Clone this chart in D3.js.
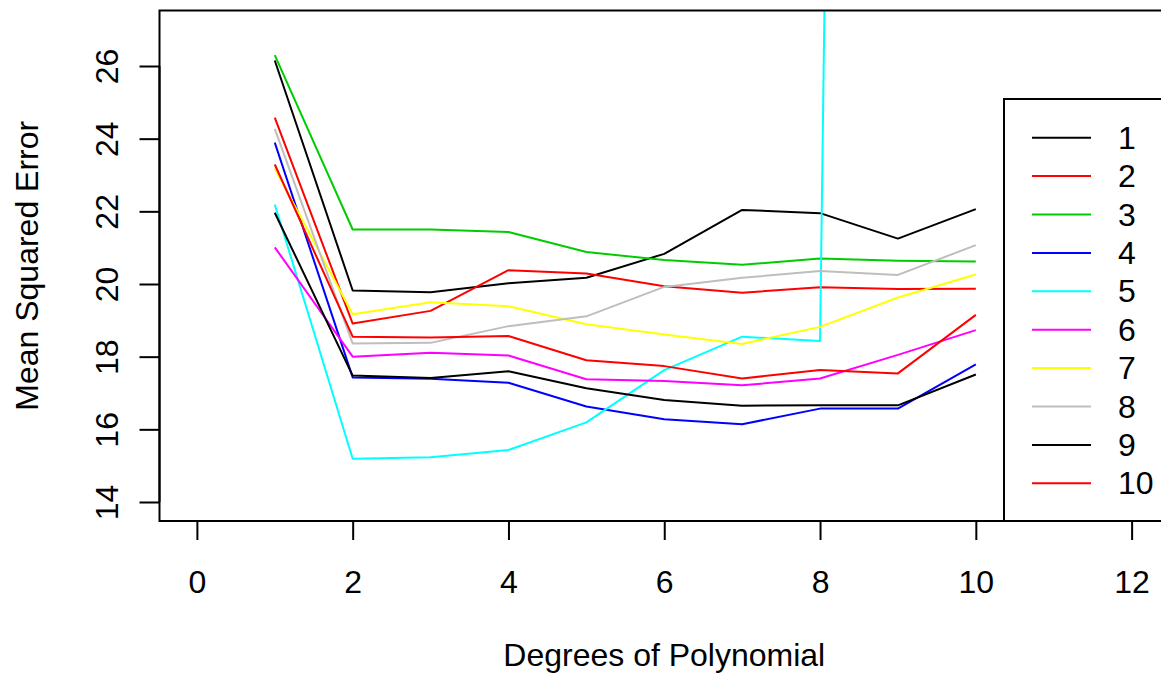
<!DOCTYPE html>
<html>
<head>
<meta charset="utf-8">
<script src="https://cdn.jsdelivr.net/npm/d3@7"></script>
<style>
  body { margin: 0; background: #fff; }
  svg text { font-family: "Liberation Sans", Arial, sans-serif; fill: #000; }
</style>
</head>
<body>
<div id="chart"></div>
<script>

// DATA
let degrees = [1, 2, 3, 4, 5, 6, 7, 8, 9, 10];
let seriesNames = ["1", "2", "3", "4", "5", "6", "7", "8", "9", "10"];
let seriesColors = ["#000000", "#FF0000", "#00CD00", "#0000FF", "#00FFFF",
                    "#FF00FF", "#FFFF00", "#BEBEBE", "#000000", "#FF0000"];

let mse1  = [26.15, 19.82, 19.77, 20.02, 20.17, 20.83, 22.04, 21.95, 21.25, 22.06];
let mse2  = [24.58, 18.91, 19.26, 20.38, 20.29, 19.94, 19.76, 19.91, 19.86, 19.87];
let mse3  = [26.30, 21.50, 21.50, 21.43, 20.88, 20.66, 20.53, 20.70, 20.64, 20.62];
let mse4  = [23.89, 17.43, 17.39, 17.28, 16.63, 16.28, 16.14, 16.57, 16.57, 17.79];
let mse5  = [22.19, 15.19, 15.23, 15.43, 16.19, 17.63, 18.55, 18.43, 180.0, 200.0];
let mse6  = [21.01, 18.00, 18.11, 18.03, 17.38, 17.33, 17.21, 17.40, 18.05, 18.73];
let mse7  = [23.18, 19.17, 19.50, 19.39, 18.89, 18.61, 18.35, 18.82, 19.63, 20.26];
let mse8  = [24.27, 18.36, 18.38, 18.84, 19.11, 19.92, 20.17, 20.36, 20.25, 21.07];
let mse9  = [21.96, 17.48, 17.41, 17.60, 17.13, 16.81, 16.65, 16.66, 16.66, 17.51];
let mse10 = [23.29, 18.55, 18.53, 18.57, 17.90, 17.74, 17.40, 17.63, 17.54, 19.15];

let xTicks = [0, 2, 4, 6, 8, 10, 12];
let yTicks = [14, 16, 18, 20, 22, 24, 26];

let allSeries = [mse1, mse2, mse3, mse4, mse5, mse6, mse7, mse8, mse9, mse10];

// CHART AREA
let width = 1161, height = 674;
let plot = {left: 159.5, top: 10.5, right: 1169, bottom: 521};
let fontSize = 32;

let svg = d3.select("#chart").append("svg")
    .attr("width", width)
    .attr("height", height);

// SCALES (R style: 4% padding on each side)
let x = d3.scaleLinear()
    .domain([-0.48, 12.48])
    .range([plot.left, plot.right]);

let y = d3.scaleLinear()
    .domain([14, 26])
    .range([502, 66]);

svg.append("clipPath").attr("id", "plotClip")
    .append("rect")
    .attr("x", plot.left)
    .attr("y", plot.top)
    .attr("width", plot.right - plot.left)
    .attr("height", plot.bottom - plot.top);

// ---- LINES ----
let line = d3.line()
    .x((d, i) => x(degrees[i]))
    .y(d => y(d));

let lineGroup = svg.append("g").attr("clip-path", "url(#plotClip)");

lineGroup.selectAll(".series")
    .data(allSeries)
    .enter()
    .append("path")
    .attr("class", "series")
    .attr("d", d => line(d))
    .attr("fill", "none")
    .attr("stroke", (d, i) => seriesColors[i])
    .attr("stroke-width", 2)
    .attr("stroke-linejoin", "round");

// ---- BOX ----
svg.append("rect")
    .attr("x", plot.left)
    .attr("y", plot.top)
    .attr("width", plot.right - plot.left)
    .attr("height", plot.bottom - plot.top)
    .attr("fill", "none")
    .attr("stroke", "#000")
    .attr("stroke-width", 2);

// ---- AXES ----
let xAxis = d3.axisBottom(x)
    .tickValues(xTicks)
    .tickSize(19)
    .tickPadding(30)
    .tickSizeOuter(0);

let yAxis = d3.axisLeft(y)
    .tickValues(yTicks)
    .tickSize(20)
    .tickSizeOuter(0);

let xAxisGroup = svg.append("g")
    .attr("transform", "translate(0," + plot.bottom + ")")
    .call(xAxis);

xAxisGroup.select(".domain")
    .attr("d", "M" + x(0) + ",0H" + x(12));

let yAxisGroup = svg.append("g")
    .attr("transform", "translate(" + plot.left + ",0)")
    .call(yAxis);

yAxisGroup.select(".domain")
    .attr("d", "M0," + y(14) + "V" + y(26));

svg.selectAll(".tick line, .domain")
    .attr("stroke", "#000")
    .attr("stroke-width", 2);

xAxisGroup.selectAll("text")
    .attr("font-size", fontSize)
    .attr("fill", "#000");

// y tick labels are rotated like base R
yAxisGroup.selectAll(".tick text")
    .attr("font-size", fontSize)
    .attr("fill", "#000")
    .attr("x", null)
    .attr("dy", null)
    .attr("text-anchor", "middle")
    .attr("dominant-baseline", "central")
    .attr("transform", "translate(" + (-53) + ",0) rotate(-90)");

// ---- AXIS TITLES ----
svg.append("text")
    .attr("x", (plot.left + plot.right) / 2)
    .attr("y", 666)
    .attr("text-anchor", "middle")
    .attr("font-size", fontSize)
    .text("Degrees of Polynomial");

svg.append("text")
    .attr("transform", "translate(27," + ((plot.top + plot.bottom) / 2) + ") rotate(-90)")
    .attr("text-anchor", "middle")
    .attr("dominant-baseline", "central")
    .attr("font-size", fontSize)
    .text("Mean Squared Error");

// ---- LEGEND ----
let legend = svg.append("g").attr("clip-path", "url(#plotClip)");

legend.append("rect")
    .attr("x", 1004)
    .attr("y", 99)
    .attr("width", 200)
    .attr("height", plot.bottom - 99 + 10)
    .attr("fill", "none")
    .attr("stroke", "#000")
    .attr("stroke-width", 2);

let rowY = d3.scaleLinear().domain([0, 9]).range([137.7, 483.3]);

let rows = legend.selectAll(".legend-row")
    .data(seriesNames)
    .enter()
    .append("g")
    .attr("class", "legend-row")
    .attr("transform", (d, i) => "translate(0," + rowY(i) + ")");

rows.append("line")
    .attr("x1", 1032)
    .attr("x2", 1091)
    .attr("stroke", (d, i) => seriesColors[i])
    .attr("stroke-width", 2);

rows.append("text")
    .attr("x", 1118)
    .attr("dominant-baseline", "central")
    .attr("font-size", fontSize)
    .text(d => d);

</script>
</body>
</html>
